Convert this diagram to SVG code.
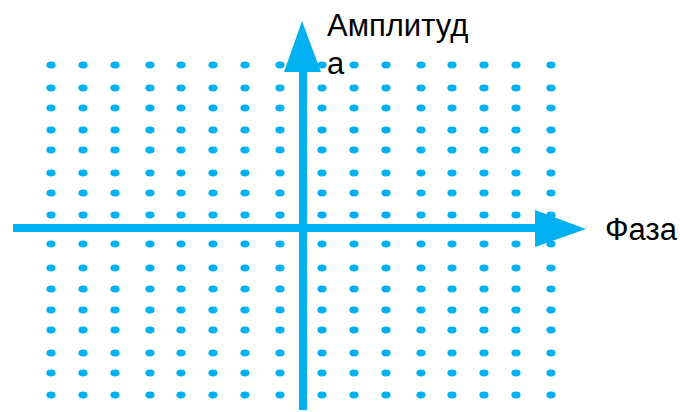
<svg xmlns="http://www.w3.org/2000/svg" xmlns:xlink="http://www.w3.org/1999/xlink" width="680" height="412" viewBox="0 0 680 412">
<style>
.dot{fill:#00B0F0}
.axis{stroke:#00B0F0;stroke-width:8;fill:none}
.head{fill:#00B0F0}
.lbl{font-family:"Liberation Sans",Arial,sans-serif;font-size:31px;fill:#000}
</style>
<defs>
<ellipse id="d" class="dot" cx="0" cy="0" rx="4.6" ry="3.4"/>
<g id="row">
<use xlink:href="#d" x="51"/><use xlink:href="#d" x="83"/><use xlink:href="#d" x="115"/><use xlink:href="#d" x="150"/>
<use xlink:href="#d" x="181"/><use xlink:href="#d" x="213"/><use xlink:href="#d" x="245"/><use xlink:href="#d" x="280"/>
<use xlink:href="#d" x="322"/><use xlink:href="#d" x="354"/><use xlink:href="#d" x="386"/><use xlink:href="#d" x="421"/>
<use xlink:href="#d" x="452"/><use xlink:href="#d" x="484"/><use xlink:href="#d" x="516"/><use xlink:href="#d" x="551"/>
</g>
</defs>
<g id="grid">
<use xlink:href="#row" y="65"/><use xlink:href="#row" y="88"/><use xlink:href="#row" y="108"/><use xlink:href="#row" y="130"/>
<use xlink:href="#row" y="150"/><use xlink:href="#row" y="173"/><use xlink:href="#row" y="193"/><use xlink:href="#row" y="215"/>
<use xlink:href="#row" y="244"/><use xlink:href="#row" y="268"/><use xlink:href="#row" y="289"/><use xlink:href="#row" y="310"/>
<use xlink:href="#row" y="330"/><use xlink:href="#row" y="353"/><use xlink:href="#row" y="373"/><use xlink:href="#row" y="395"/>
</g>
<g id="connectors">
<line class="axis" x1="13" y1="228" x2="540" y2="228"/>
<polygon class="head" points="535,210 586,229 535,247"/>
<line class="axis" x1="303" y1="410" x2="303" y2="68"/>
<polygon class="head" points="302,21 284,72 321,72"/>
</g>
<g id="label-amplitude">
<text class="lbl" x="327" y="36">Амплитуд</text>
<text class="lbl" x="327" y="74">а</text>
</g>
<g id="label-phase">
<text class="lbl" x="605" y="240">Фаза</text>
</g>
</svg>
